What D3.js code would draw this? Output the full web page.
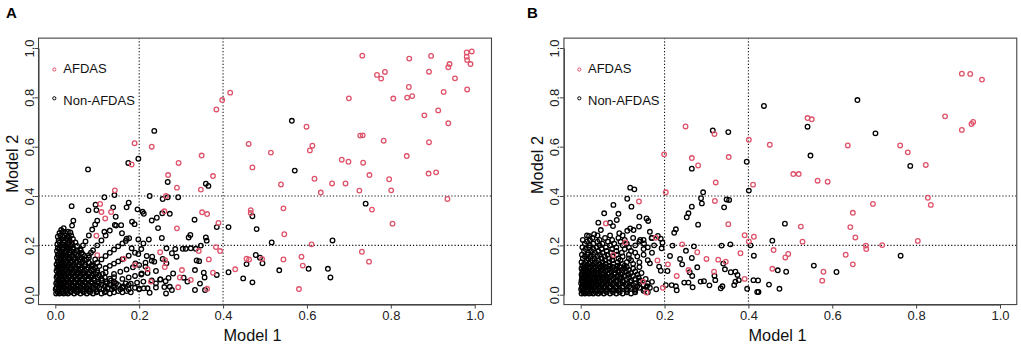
<!DOCTYPE html>
<html><head><meta charset="utf-8">
<script src="https://cdn.jsdelivr.net/npm/d3@7"></script>
<style>body{margin:0;background:#fff} svg{display:block} text{font-family:"Liberation Sans",Arial,sans-serif}</style>
</head><body><svg id="c" width="1021" height="346"></svg>
<script>
const ticks=[0,0.2,0.4,0.6,0.8,1.0];
const cutoffs=[0.2,0.4];
const legendLabels=["AFDAS","Non-AFDAS"];
const panelLetters=["A","B"];
const axisTitles=["Model 1","Model 2"];

// Panel A — AFDAS (red)
const redA=[[0.732,0.969],[0.844,0.957],[0.896,0.968],[0.981,0.982],[0.993,0.986],[0.981,0.965],[0.982,0.951],[0.940,0.935],[0.937,0.922],[0.990,0.935],[0.891,0.904],[0.786,0.903],[0.767,0.891],[0.777,0.876],[0.953,0.877],[0.843,0.842],[0.851,0.805],[0.839,0.799],[0.806,0.795],[0.700,0.796],[0.982,0.832],[0.926,0.822],[0.913,0.747],[0.880,0.727],[0.937,0.695],[0.417,0.819],[0.398,0.789],[0.384,0.751],[0.599,0.681],[0.733,0.646],[0.727,0.645],[0.783,0.624],[0.891,0.618],[0.613,0.604],[0.607,0.585],[0.461,0.611],[0.514,0.576],[0.189,0.614],[0.230,0.600],[0.349,0.564],[0.838,0.562],[0.683,0.547],[0.699,0.539],[0.734,0.535],[0.294,0.534],[0.182,0.528],[0.470,0.516],[0.908,0.496],[0.890,0.491],[0.749,0.485],[0.796,0.468],[0.618,0.470],[0.269,0.485],[0.376,0.481],[0.538,0.447],[0.660,0.451],[0.692,0.451],[0.290,0.434],[0.347,0.426],[0.142,0.423],[0.725,0.422],[0.801,0.423],[0.633,0.414],[0.935,0.388],[0.264,0.400],[0.544,0.350],[0.755,0.345],[0.466,0.343],[0.466,0.331],[0.350,0.334],[0.362,0.327],[0.107,0.368],[0.110,0.335],[0.133,0.335],[0.119,0.309],[0.260,0.338],[0.389,0.291],[0.804,0.288],[0.290,0.269],[0.098,0.239],[0.546,0.245],[0.611,0.204],[0.731,0.174],[0.748,0.134],[0.587,0.154],[0.590,0.118],[0.544,0.143],[0.456,0.146],[0.462,0.143],[0.493,0.145],[0.429,0.103],[0.383,0.193],[0.393,0.177],[0.342,0.177],[0.366,0.143],[0.581,0.023],[0.302,0.100],[0.376,0.089],[0.250,0.172],[0.261,0.112],[0.220,0.103],[0.293,0.030],[0.362,0.024],[0.163,0.146],[0.297,0.070],[0.228,0.053],[0.262,0.140],[0.323,0.060],[0.190,0.120]];

// Panel A — AFDAS points hidden inside the dense cluster (drawn beneath it)
const redInnerA=[[0.100,0.160],[0.060,0.090],[0.140,0.050],[0.040,0.210],[0.030,0.040]];

// Panel A — Non-AFDAS (black), sparse points and fan rays
const blackA=[[0.564,0.705],[0.236,0.664],[0.198,0.551],[0.174,0.534],[0.078,0.508],[0.571,0.503],[0.268,0.457],[0.359,0.450],[0.365,0.441],[0.225,0.400],[0.293,0.395],[0.268,0.395],[0.256,0.388],[0.141,0.404],[0.117,0.395],[0.740,0.369],[0.039,0.359],[0.096,0.365],[0.138,0.354],[0.170,0.354],[0.175,0.373],[0.196,0.346],[0.208,0.336],[0.211,0.328],[0.079,0.342],[0.098,0.343],[0.144,0.316],[0.332,0.304],[0.230,0.301],[0.242,0.312],[0.255,0.330],[0.273,0.328],[0.470,0.318],[0.413,0.274],[0.385,0.274],[0.245,0.270],[0.480,0.266],[0.322,0.242],[0.318,0.232],[0.661,0.220],[0.516,0.212],[0.254,0.230],[0.359,0.232],[0.361,0.219],[0.347,0.199],[0.335,0.186],[0.323,0.188],[0.311,0.186],[0.304,0.186],[0.286,0.185],[0.265,0.188],[0.278,0.168],[0.478,0.161],[0.488,0.150],[0.456,0.124],[0.494,0.127],[0.337,0.139],[0.343,0.136],[0.333,0.100],[0.354,0.089],[0.356,0.070],[0.385,0.080],[0.413,0.091],[0.448,0.066],[0.470,0.050],[0.534,0.099],[0.604,0.105],[0.650,0.105],[0.656,0.070],[0.345,0.045],[0.333,0.019],[0.357,0.019],[0.315,0.053],[0.306,0.069],[0.278,0.019],[0.264,0.005],[0.240,0.046],[0.251,0.062],[0.236,0.134],[0.231,0.154],[0.218,0.157],[0.215,0.114],[0.206,0.086],[0.211,0.026],[0.225,0.008],[0.256,0.145],[0.265,0.127],[0.281,0.086],[0.263,0.055],[0.273,0.032],[0.289,0.154],[0.198,0.165],[0.191,0.127],[0.182,0.188],[0.198,0.224],[0.210,0.208],[0.223,0.224],[0.159,0.249],[0.170,0.227],[0.157,0.282],[0.183,0.296],[0.189,0.286],[0.145,0.280],[0.117,0.255],
[0.090,0.118],[0.100,0.130],[0.110,0.143],[0.120,0.157],[0.130,0.170],[0.140,0.183],[0.150,0.196],[0.160,0.208],[0.168,0.218],[0.176,0.229],
[0.070,0.140],[0.080,0.160],[0.090,0.180],[0.100,0.200],[0.110,0.220],[0.120,0.240],[0.130,0.260],[0.142,0.283],
[0.060,0.180],[0.066,0.200],[0.072,0.216],[0.080,0.240],[0.088,0.264],[0.095,0.285],[0.100,0.300],
[0.120,0.108],[0.130,0.117],[0.140,0.126],[0.150,0.135],[0.160,0.144],[0.175,0.158],[0.190,0.170],[0.205,0.185],
[0.140,0.084],[0.155,0.093],[0.170,0.102],[0.185,0.111],[0.200,0.120],[0.215,0.130],[0.230,0.138],
[0.160,0.064],[0.175,0.070],[0.190,0.076],[0.205,0.082],[0.220,0.088],[0.240,0.096],
[0.180,0.045],[0.195,0.049],[0.210,0.053],[0.230,0.058],[0.250,0.062],[0.270,0.068],
[0.200,0.024],[0.220,0.026],[0.240,0.029],[0.260,0.031],
[0.025,0.175],[0.028,0.196],[0.030,0.210],[0.033,0.231],[0.036,0.252],[0.040,0.280],[0.043,0.300]];

// Panel A — Non-AFDAS dense cluster near origin: [y, [x values]]
const clusterA=[
[0.005,[0.002,0.010,0.020,0.030,0.045,0.060,0.075,0.090,0.110,0.130]],
[0.010,[0.006,0.016,0.026,0.037,0.052,0.068,0.083,0.098,0.118,0.140,0.160,0.180]],
[0.015,[0.005,0.015,0.025,0.038,0.050,0.065,0.080,0.100,0.120,0.150,0.170]],
[0.022,[0.001,0.008,0.017,0.028,0.041,0.054,0.068,0.082,0.097,0.115,0.135,0.155,0.175,0.200]],
[0.028,[0.003,0.012,0.022,0.034,0.047,0.060,0.075,0.090,0.105,0.125,0.140,0.160,0.190]],
[0.034,[0.009,0.019,0.030,0.043,0.056,0.070,0.085,0.100,0.118,0.138,0.162]],
[0.040,[0.006,0.016,0.027,0.040,0.052,0.066,0.080,0.095,0.110,0.130,0.150,0.175]],
[0.046,[0.002,0.011,0.021,0.034,0.046,0.060,0.073,0.088,0.104,0.123,0.145,0.168]],
[0.052,[0.004,0.012,0.022,0.033,0.045,0.058,0.070,0.085,0.100,0.120,0.140]],
[0.058,[0.007,0.017,0.028,0.039,0.052,0.064,0.078,0.094,0.112,0.133]],
[0.065,[0.008,0.018,0.028,0.040,0.052,0.065,0.078,0.092,0.110,0.130]],
[0.071,[0.003,0.012,0.022,0.033,0.045,0.057,0.071,0.085,0.100,0.118,0.140]],
[0.078,[0.005,0.014,0.024,0.035,0.047,0.060,0.073,0.088,0.105]],
[0.084,[0.008,0.018,0.029,0.041,0.053,0.067,0.080,0.096,0.113]],
[0.090,[0.009,0.019,0.030,0.041,0.054,0.067,0.082,0.100,0.120]],
[0.097,[0.003,0.012,0.022,0.032,0.044,0.056,0.070,0.085,0.100]],
[0.103,[0.006,0.015,0.025,0.036,0.048,0.060,0.075,0.090]],
[0.110,[0.005,0.015,0.025,0.036,0.048,0.063,0.078,0.095]],
[0.116,[0.010,0.020,0.030,0.042,0.055,0.070,0.086,0.105]],
[0.123,[0.003,0.012,0.021,0.032,0.044,0.057,0.072,0.088]],
[0.130,[0.007,0.016,0.026,0.037,0.050,0.064,0.080]],
[0.137,[0.006,0.015,0.025,0.036,0.050,0.065]],
[0.143,[0.011,0.021,0.032,0.045,0.058,0.075,0.095]],
[0.150,[0.004,0.013,0.023,0.034,0.047,0.062,0.080]],
[0.157,[0.008,0.017,0.028,0.040,0.054,0.070]],
[0.163,[0.006,0.014,0.024,0.035,0.050,0.066]],
[0.170,[0.012,0.022,0.034,0.047,0.063,0.085]],
[0.177,[0.004,0.014,0.025,0.038,0.052]],
[0.184,[0.009,0.018,0.030,0.043,0.060]],
[0.190,[0.006,0.016,0.028,0.042]],
[0.198,[0.013,0.024,0.037,0.052]],
[0.205,[0.005,0.016,0.028,0.040]],
[0.212,[0.010,0.020,0.033,0.048]],
[0.220,[0.008,0.020,0.034]],
[0.226,[0.015,0.027,0.042]],
[0.235,[0.006,0.017,0.030]],
[0.240,[0.012,0.022,0.038]],
[0.250,[0.010,0.024]],
[0.255,[0.018,0.030]],
[0.262,[0.014]],
[0.270,[0.020]]];

// Panel B — AFDAS (red)
const redB=[[0.909,0.896],[0.929,0.895],[0.957,0.872],[0.869,0.723],[0.909,0.668],[0.932,0.692],[0.936,0.700],[0.541,0.716],[0.551,0.711],[0.250,0.682],[0.319,0.651],[0.401,0.628],[0.451,0.608],[0.637,0.605],[0.762,0.605],[0.780,0.577],[0.199,0.569],[0.353,0.558],[0.265,0.554],[0.280,0.524],[0.823,0.526],[0.507,0.489],[0.520,0.489],[0.322,0.455],[0.411,0.446],[0.565,0.462],[0.589,0.458],[0.203,0.415],[0.320,0.380],[0.828,0.393],[0.835,0.364],[0.697,0.368],[0.139,0.378],[0.649,0.332],[0.352,0.286],[0.525,0.276],[0.643,0.274],[0.060,0.289],[0.529,0.215],[0.655,0.232],[0.804,0.218],[0.391,0.241],[0.413,0.235],[0.401,0.216],[0.242,0.204],[0.719,0.201],[0.680,0.199],[0.681,0.185],[0.460,0.181],[0.381,0.168],[0.278,0.172],[0.495,0.165],[0.488,0.151],[0.632,0.162],[0.300,0.145],[0.328,0.142],[0.346,0.134],[0.183,0.139],[0.649,0.123],[0.457,0.105],[0.579,0.093],[0.318,0.093],[0.257,0.100],[0.229,0.076],[0.576,0.057],[0.391,0.064],[0.196,0.028],[0.157,0.009],[0.106,0.212],[0.078,0.161],[0.179,0.231],[0.208,0.123],[0.149,0.053]];

// Panel B — AFDAS points hidden inside the dense cluster (drawn beneath it)
const redInnerB=[[0.091,0.100],[0.040,0.100],[0.130,0.030],[0.060,0.050]];

// Panel B — Non-AFDAS (black), sparse points
const blackB=[[0.660,0.789],[0.437,0.765],[0.315,0.666],[0.352,0.659],[0.703,0.654],[0.541,0.681],[0.548,0.564],[0.396,0.539],[0.265,0.511],[0.786,0.522],[0.401,0.422],[0.118,0.434],[0.128,0.427],[0.292,0.415],[0.287,0.391],[0.289,0.370],[0.348,0.386],[0.354,0.384],[0.111,0.389],[0.121,0.357],[0.078,0.364],[0.342,0.354],[0.265,0.357],[0.257,0.330],[0.253,0.314],[0.090,0.328],[0.056,0.330],[0.280,0.284],[0.487,0.288],[0.227,0.265],[0.223,0.251],[0.139,0.276],[0.457,0.219],[0.336,0.199],[0.357,0.204],[0.405,0.200],[0.219,0.199],[0.270,0.196],[0.763,0.158],[0.413,0.158],[0.556,0.118],[0.610,0.092],[0.490,0.093],[0.470,0.099],[0.449,0.041],[0.474,0.024],[0.421,0.011],[0.424,0.011],[0.397,0.024],[0.412,0.059],[0.423,0.058],[0.366,0.039],[0.369,0.053],[0.377,0.059],[0.374,0.080],[0.369,0.093],[0.358,0.091],[0.344,0.103],[0.340,0.126],[0.319,0.077],[0.321,0.059],[0.307,0.038],[0.338,0.034],[0.334,0.026],[0.294,0.055],[0.286,0.053],[0.267,0.030],[0.257,0.049],[0.266,0.076],[0.260,0.091],[0.242,0.123],[0.237,0.145],[0.265,0.149],[0.251,0.178],[0.278,0.111],[0.227,0.034],[0.229,0.018],[0.247,0.049],[0.217,0.039],[0.203,0.039],[0.213,0.157],[0.207,0.096],[0.187,0.114],[0.191,0.097],[0.165,0.127],[0.142,0.222],[0.165,0.255],[0.169,0.230],[0.151,0.208],[0.184,0.238],[0.191,0.227],[0.195,0.211],[0.193,0.188],[0.118,0.269],[0.126,0.262],[0.111,0.259],[0.140,0.316],[0.157,0.309],[0.161,0.299],[0.042,0.292],[0.048,0.262],[0.020,0.238],[0.032,0.245],[0.070,0.292],[0.086,0.303],[0.077,0.278],[0.092,0.249]];

// Panel B — Non-AFDAS dense cluster near origin: [y, [x values]]
const clusterB=[
[0.005,[0.002,0.010,0.020,0.030,0.042,0.055,0.070,0.085,0.100,0.120]],
[0.010,[0.006,0.015,0.025,0.036,0.048,0.062,0.077,0.093,0.110,0.130,0.160]],
[0.016,[0.005,0.015,0.025,0.036,0.048,0.060,0.075,0.090,0.110,0.130,0.150]],
[0.022,[0.001,0.008,0.017,0.027,0.038,0.050,0.063,0.078,0.093,0.110,0.130,0.152,0.180]],
[0.028,[0.003,0.012,0.022,0.032,0.044,0.056,0.070,0.085,0.100,0.120,0.140,0.165]],
[0.034,[0.003,0.012,0.022,0.033,0.045,0.057,0.070,0.084,0.100,0.116,0.135,0.158]],
[0.040,[0.007,0.017,0.027,0.038,0.050,0.062,0.076,0.090,0.108,0.125,0.150]],
[0.046,[0.001,0.009,0.019,0.029,0.040,0.052,0.066,0.080,0.095,0.112,0.130,0.160]],
[0.052,[0.004,0.013,0.023,0.034,0.045,0.058,0.070,0.084,0.100,0.118,0.140,0.170]],
[0.058,[0.002,0.011,0.021,0.031,0.043,0.055,0.069,0.085,0.100,0.120,0.142]],
[0.064,[0.008,0.018,0.028,0.040,0.052,0.064,0.078,0.094,0.110,0.130,0.155]],
[0.070,[0.003,0.010,0.020,0.031,0.042,0.054,0.068,0.082,0.097,0.115,0.138]],
[0.076,[0.005,0.014,0.025,0.036,0.048,0.060,0.073,0.088,0.105,0.125]],
[0.082,[0.002,0.009,0.018,0.029,0.041,0.054,0.066,0.080,0.095,0.113,0.135]],
[0.088,[0.010,0.020,0.031,0.043,0.055,0.068,0.083,0.100,0.120,0.145]],
[0.094,[0.004,0.013,0.023,0.034,0.046,0.059,0.073,0.090,0.108,0.130]],
[0.100,[0.006,0.016,0.027,0.038,0.050,0.064,0.080,0.098,0.115]],
[0.106,[0.002,0.010,0.020,0.031,0.043,0.056,0.070,0.086,0.104,0.125]],
[0.112,[0.012,0.022,0.034,0.047,0.060,0.076,0.093,0.110,0.140]],
[0.118,[0.004,0.015,0.027,0.040,0.054,0.070,0.087,0.105]],
[0.125,[0.008,0.020,0.032,0.045,0.060,0.078,0.100,0.125]],
[0.132,[0.002,0.012,0.024,0.037,0.052,0.068,0.088,0.110,0.140]],
[0.140,[0.014,0.028,0.042,0.058,0.075,0.095,0.120,0.160]],
[0.147,[0.005,0.018,0.033,0.050,0.068,0.090,0.115]],
[0.155,[0.010,0.024,0.040,0.057,0.076,0.100,0.135]],
[0.162,[0.003,0.016,0.030,0.046,0.064,0.086,0.115,0.150]],
[0.170,[0.018,0.034,0.052,0.072,0.098,0.130,0.170]],
[0.177,[0.008,0.025,0.042,0.062,0.085,0.120]],
[0.185,[0.012,0.030,0.050,0.075,0.105,0.150]],
[0.192,[0.004,0.020,0.038,0.060,0.085,0.115,0.160]],
[0.200,[0.022,0.045,0.070,0.100,0.130,0.175]],
[0.207,[0.010,0.030,0.052,0.080,0.110]],
[0.215,[0.015,0.040,0.065,0.095,0.140]],
[0.222,[0.005,0.022,0.045,0.075,0.105,0.150]],
[0.230,[0.028,0.058,0.090,0.125,0.170]],
[0.240,[0.015,0.040,0.070,0.100]]];

const RED="#DF536B", BLACK="#000000";
const svg=d3.select("#c");
const fmt=d3.format(".1f");
const expand=rows=>rows.flatMap(([y,xs])=>xs.map(x=>[x,y]));

const panels=[
 {letter:panelLetters[0],x0:55.3,x1:474.7,letterX:6,legX:54.3,legTX:63.3,xtX:252.5,ytX:17.5,ytY:163.7,red:redA,redInner:redInnerA,black:blackA,cluster:clusterA},
 {letter:panelLetters[1],x0:580.7,x1:1000,letterX:527,legX:579.3,legTX:588,xtX:777.5,ytX:543,ytY:165,red:redB,redInner:redInnerB,black:blackB,cluster:clusterB}
];
const Y0=294.7, Y1=48;

panels.forEach(p=>{
  const x=d3.scaleLinear().domain([0,1]).range([p.x0,p.x1]);
  const y=d3.scaleLinear().domain([0,1]).range([Y0,Y1]);
  const bx0=x(-0.04), bx1=x(1.04), by0=y(-0.04), by1=y(1.04);
  const g=svg.append("g");
  const clipId="clip"+p.letter;
  g.append("clipPath").attr("id",clipId).append("rect").attr("x",bx0).attr("y",by1).attr("width",bx1-bx0).attr("height",by0-by1);

  const lines=g.append("g").attr("clip-path",`url(#${clipId})`);
  cutoffs.forEach(c=>{
    lines.append("line").attr("x1",x(c)).attr("x2",x(c)).attr("y1",by1).attr("y2",by0)
      .attr("stroke","#111").attr("stroke-width",1.1).attr("stroke-dasharray","1.2,2");
    lines.append("line").attr("x1",bx0).attr("x2",bx1).attr("y1",y(c)).attr("y2",y(c))
      .attr("stroke","#111").attr("stroke-width",1.1).attr("stroke-dasharray","1.2,2");
  });

  const pts=g.append("g").attr("clip-path",`url(#${clipId})`).attr("fill","none").attr("stroke-width",1.3);
  const drawSet=(data,cls,col)=>pts.selectAll("circle."+cls).data(data).join("circle").attr("class",cls)
    .attr("cx",d=>x(d[0])).attr("cy",d=>y(d[1])).attr("r",2.3).attr("stroke",col);
  drawSet(p.redInner,"ri",RED);
  drawSet(expand(p.cluster).concat(p.black),"b",BLACK);
  drawSet(p.red,"r",RED);

  g.append("rect").attr("x",bx0).attr("y",by1).attr("width",bx1-bx0).attr("height",by0-by1)
    .attr("fill","none").attr("stroke","#444").attr("stroke-width",1.1);

  const ax=g.append("g").attr("transform",`translate(0,${by0})`)
    .call(d3.axisBottom(x).tickValues(ticks).tickFormat(fmt).tickSize(4).tickSizeOuter(0));
  ax.selectAll("text").attr("y",15.1).attr("dy",0).attr("font-size",13).attr("fill","#222");
  const ay=g.append("g").attr("transform",`translate(${bx0},0)`)
    .call(d3.axisLeft(y).tickValues(ticks).tickFormat(fmt).tickSize(4).tickSizeOuter(0));
  ay.selectAll("text").attr("x",0).attr("y",-5).attr("dy",0).attr("transform","rotate(-90)")
    .attr("text-anchor","middle").attr("font-size",13).attr("fill","#222");
  [ax,ay].forEach(a=>{a.selectAll("path,line").attr("stroke","#444");a.attr("font-family",null);});

  g.append("text").attr("x",p.xtX).attr("y",341).attr("text-anchor","middle").attr("font-size",16.3).attr("fill","#111").text(axisTitles[0]);
  g.append("text").attr("transform",`translate(${p.ytX},${p.ytY}) rotate(-90)`).attr("text-anchor","middle").attr("font-size",16.3).attr("fill","#111").text(axisTitles[1]);
  g.append("text").attr("x",p.letterX).attr("y",17.5).attr("font-size",15).attr("font-weight","bold").attr("fill","#000").text(p.letter);

  const leg=g.append("g");
  [[legendLabels[0],RED,69.5,73.3],[legendLabels[1],BLACK,98.3,104.6]].forEach(([lab,col,cy,ty])=>{
    leg.append("circle").attr("cx",p.legX).attr("cy",cy).attr("r",1.6).attr("fill","none").attr("stroke",col).attr("stroke-width",1);
    leg.append("text").attr("x",p.legTX).attr("y",ty).attr("font-size",13).attr("fill","#111").text(lab);
  });
});
</script></body></html>
